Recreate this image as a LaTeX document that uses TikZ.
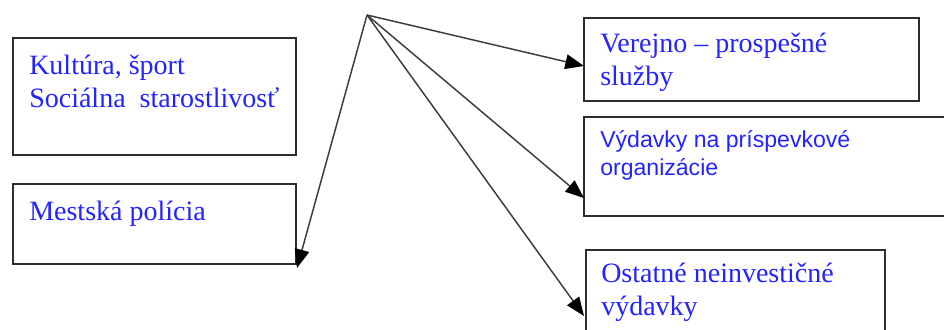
\documentclass[tikz,border=0pt]{standalone}
\usepackage{fontspec}
\setmainfont{Liberation Serif}
\newfontfamily\arialfont{Liberation Sans}
\usetikzlibrary{arrows.meta}
\definecolor{textblue}{RGB}{35,35,255}
\definecolor{boxline}{RGB}{45,45,45}
\definecolor{arrowline}{RGB}{60,60,60}
\tikzset{
  box/.style={draw=boxline, line width=1.5pt, anchor=north west, inner sep=0pt},
  label/.style={anchor=base west, align=left, inner sep=0pt, text=textblue,
    font=\fontsize{21}{24.5}\selectfont},
  sanslabel/.style={label, font=\arialfont\fontsize{17.3}{20.3}\selectfont},
  link/.style={draw=arrowline, line width=1.1pt,
    -{Triangle[length=14pt,width=11pt,color=black]}}
}
\begin{document}
\begin{tikzpicture}[x=0.75pt,y=-0.75pt]
\useasboundingbox (0,0) rectangle (944,329);
\coordinate (apex) at (367,15);
% Draw boxes on the left
\node (kultura) [box, minimum width=283*0.75pt, minimum height=117*0.75pt] at (12,37) {};
\node (policia) [box, minimum width=283*0.75pt, minimum height=80*0.75pt] at (12,183) {};
% Draw boxes on the right
\node (verejno) [box, minimum width=335*0.75pt, minimum height=83*0.75pt] at (583,17) {};
\node (vydavky) [box, minimum width=380*0.75pt, minimum height=99*0.75pt] at (583,116) {};
\node (ostatne) [box, minimum width=299*0.75pt, minimum height=100*0.75pt] at (585,249) {};
% Texts (placed at the baseline of the last line)
\node (kulturatext) [label] at (29,107) {Kultúra, šport\\Sociálna\ \ starostlivosť};
\node (policiatext) [label] at (29,220) {Mestská polícia};
\node (verejnotext) [label] at (600,85) {Verejno -- prospešné\\služby};
\node (vydavkytext) [sanslabel] at (600,175) {Výdavky na príspevkové\\organizácie};
\node (ostatnetext) [label] at (601,315) {Ostatné neinvestičné\\výdavky};
% Arrow tips
\coordinate (tipP) at (297,268);
\coordinate (tipV) at (584,66);
\coordinate (tipD) at (584,198);
\coordinate (tipO) at (584,316);
% Draw arrows
\draw[link] (apex) -- (tipP);
\draw[link] (apex) -- (tipV);
\draw[link] (apex) -- (tipD);
\draw[link] (apex) -- (tipO);
\end{tikzpicture}
\end{document}
